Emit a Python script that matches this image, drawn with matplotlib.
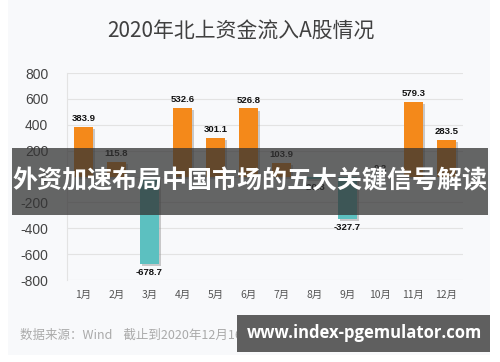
import numpy as np
import matplotlib.pyplot as plt
import matplotlib.patheffects as pe
from matplotlib.patches import Rectangle

plt.rcParams['font.family'] = ['Noto Sans CJK SC', 'DejaVu Sans']

# 数据
months = ['1月', '2月', '3月', '4月', '5月', '6月', '7月', '8月', '9月', '10月', '11月', '12月']
values = [383.9, 115.8, -678.7, 532.6, 301.1, 526.8, 103.9, -20.3, -327.7, 0.2, 579.3, 283.5]
y_ticks = [800, 600, 400, 200, 0, -200, -400, -600, -800]

title = '2020年北上资金流入A股情况'
source = '数据来源：Wind    截止到2020年12月16日'
banner = '外资加速布局中国市场的五大关键信号解读'
watermark = 'www.index-pgemulator.com'

fig = plt.figure(figsize=(5, 3.62), dpi=100)
fig.patch.set_facecolor('white')

# 浅灰底板
panel = Rectangle((0.016, 0.02), 0.964, 0.98, transform=fig.transFigure,
                  facecolor='#f8f9fb', edgecolor='none', zorder=-1)
fig.patches.append(panel)

ax = fig.add_axes([0.134, 0.2265, 0.792, 0.5715])
ax.set_facecolor('none')

x = np.arange(len(months))
colors = ['#f4891a' if v >= 0 else '#5cc0c0' for v in values]
bars = ax.bar(x, values, width=0.6, color=colors, zorder=3)
for b in bars:
    b.set_path_effects([pe.SimplePatchShadow(offset=(1.5, -1.5), shadow_rgbFace='#999999', alpha=0.5),
                        pe.Normal()])

for xi, v in zip(x, values):
    if v >= 0:
        ax.text(xi, v + 30, f'{v:.1f}', ha='center', va='bottom', fontsize=6.8,
                fontweight='bold', family='Liberation Sans', color='#111111', zorder=4)
    else:
        ax.text(xi, v - 30, f'{v:.1f}', ha='center', va='top', fontsize=6.8,
                fontweight='bold', family='Liberation Sans', color='#111111', zorder=4)

ax.set_ylim(-800, 800)
ax.set_xlim(-0.5, 11.5)
ax.set_yticks(y_ticks)
ax.set_yticklabels([str(t) for t in y_ticks], fontsize=10, color='#444444', family='Liberation Sans')
ax.set_xticks(x)
ax.set_xticklabels(months, fontsize=7.5, color='#555555')
ax.tick_params(length=0, pad=7)
ax.tick_params(axis='y', pad=13.5)
ax.grid(axis='y', color='#e3e3e3', linewidth=0.8, zorder=0)
for s in ['top', 'right', 'bottom']:
    ax.spines[s].set_visible(False)
ax.spines['left'].set_color('#e3e3e3')

fig.text(0.481, 0.912, title, ha='center', va='center', fontsize=15, color='#404040')
fig.text(0.04, 0.075, source, ha='left', va='center', fontsize=9, color='#aaaaaa')

# 横幅
fig.patches.append(Rectangle((0.024, 0.406), 0.952, 0.185, transform=fig.transFigure,
                             facecolor='#333333', alpha=0.75, edgecolor='none', zorder=5))
fig.text(0.5, 0.499, banner, ha='center', va='center', fontsize=18, fontweight='bold',
         color='white', zorder=6)

# 网址水印
fig.patches.append(Rectangle((0.474, 0.028), 0.506, 0.102, transform=fig.transFigure,
                             facecolor='#5f5f5f', edgecolor='none', zorder=5))
fig.text(0.729, 0.079, watermark, ha='center', va='center', fontsize=12, fontweight='bold',
         family='Open Sans', color='white', zorder=6)

plt.savefig('out.png', dpi=100)
